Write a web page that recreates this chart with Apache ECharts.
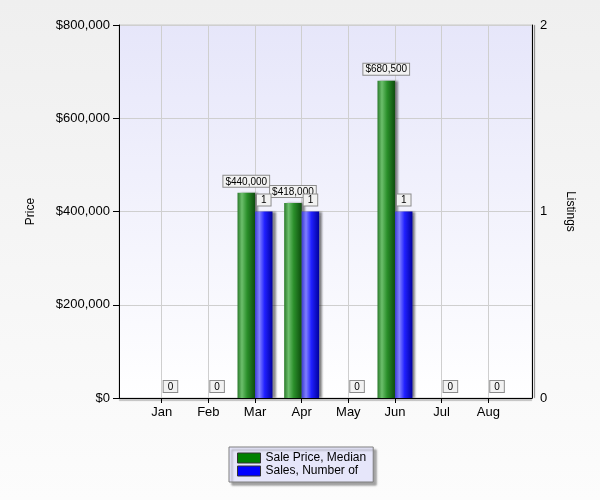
<!DOCTYPE html>
<html><head><meta charset="utf-8">
<script src="https://cdn.jsdelivr.net/npm/echarts@6/dist/echarts.min.js"></script>
<style>html,body{margin:0;padding:0;}#c{width:600px;height:500px;}</style>
</head><body><div id="c"></div>
<script>
const months = ['Jan','Feb','Mar','Apr','May','Jun','Jul','Aug'];
const priceValues = [null, null, 440000, 418000, null, 680500, null, null];
const salesValues = [0, 0, 1, 1, 0, 1, 0, 0];
const priceAxis = {min: 0, max: 800000, interval: 200000};
const listingsAxis = {min: 0, max: 2, interval: 1};
const seriesNames = ['Sale Price, Median', 'Sales, Number of'];

const FONT = '"Liberation Sans", Arial, sans-serif';
const chart = echarts.init(document.getElementById('c'), null, {renderer: 'canvas'});

const grad = (stops) => new echarts.graphic.LinearGradient(0, 0, 1, 0, stops.map((c, i) => ({offset: c[0], color: c[1]})));
const greenFill = grad([[0, '#2a7a2a'], [0.25, '#6cbf6c'], [0.55, '#2a8f2a'], [1, '#0d4d0d']]);
const blueFill = grad([[0, '#3c3cd0'], [0.25, '#8080ff'], [0.55, '#2020ff'], [1, '#0000a0']]);

const labelBox = {
  show: true, position: 'top', distance: 6,
  fontFamily: FONT, fontSize: 10, color: '#000',
  backgroundColor: '#f2f2f2', borderColor: '#8c8c8c', borderWidth: 1,
  padding: [1, 2, 0, 2]
};
const fmtMoney = v => '$' + Math.round(v).toLocaleString('en-US');

const gTop = 25, gBottom = 102;
const left0 = 119, right0 = 68;
const janX = 161.7, augX = 488.3;
const step = (augX - janX) / 7;
const left1 = janX - step / 2, width1 = step * 8;

chart.setOption({
  backgroundColor: new echarts.graphic.LinearGradient(0, 0, 0, 1, [{offset: 0, color: '#efefef'}, {offset: 1, color: '#fcfcfc'}]),
  animation: false,
  grid: [
    {left: left0, right: right0, top: gTop, bottom: gBottom, show: true,
     backgroundColor: new echarts.graphic.LinearGradient(0, 0, 0, 1, [{offset: 0, color: '#e6e6fa'}, {offset: 1, color: '#ffffff'}]),
     borderColor: '#c8c8c8', borderWidth: 1},
    {left: left1, width: width1, top: gTop, bottom: gBottom},
    {left: janX, width: augX - janX, top: gTop, bottom: gBottom}
  ],
  xAxis: [
    {gridIndex: 0, type: 'value', min: 0, max: 1, position: 'bottom',
     axisLine: {show: true, lineStyle: {color: '#000', width: 1, shadowColor: 'rgba(0,0,0,0.45)', shadowOffsetY: 1.5, shadowBlur: 1}},
     axisTick: {show: false}, axisLabel: {show: false}, splitLine: {show: false}},
    {gridIndex: 1, type: 'category', data: months, show: false},
    {gridIndex: 2, type: 'value', min: 0, max: 7, interval: 1, position: 'bottom',
     axisLine: {show: false},
     axisTick: {show: true, length: 5, lineStyle: {color: '#000'}},
     axisLabel: {show: true, margin: 8, fontFamily: FONT, fontSize: 13, color: '#000', formatter: v => months[v] || ''},
     splitLine: {show: true, lineStyle: {color: '#cfcfcf', width: 1}}}
  ],
  yAxis: [
    {gridIndex: 0, type: 'value', position: 'left', min: priceAxis.min, max: priceAxis.max, interval: priceAxis.interval,
     name: 'Price', nameLocation: 'middle', nameRotate: 90, nameGap: 82,
     nameTextStyle: {fontFamily: FONT, fontSize: 12, color: '#000'},
     axisLine: {show: true, lineStyle: {color: '#000'}},
     axisTick: {show: true, length: 6, lineStyle: {color: '#000'}},
     axisLabel: {margin: 9, fontFamily: FONT, fontSize: 13, color: '#000', formatter: fmtMoney},
     splitLine: {show: true, lineStyle: {color: '#cfcfcf'}}},
    {gridIndex: 0, type: 'value', position: 'right', min: listingsAxis.min, max: listingsAxis.max, interval: listingsAxis.interval,
     name: 'Listings', nameLocation: 'middle', nameRotate: -90, nameGap: 32,
     nameTextStyle: {fontFamily: FONT, fontSize: 12, color: '#000'},
     axisLine: {show: true, lineStyle: {color: '#000', width: 1, shadowColor: 'rgba(0,0,0,0.5)', shadowOffsetX: 2, shadowBlur: 1}},
     axisTick: {show: false},
     axisLabel: {margin: 8, fontFamily: FONT, fontSize: 13, color: '#000'},
     splitLine: {show: false}},
    {gridIndex: 1, type: 'value', min: priceAxis.min, max: priceAxis.max, show: false},
    {gridIndex: 1, type: 'value', min: listingsAxis.min, max: listingsAxis.max, show: false},
    {gridIndex: 2, type: 'value', min: 0, max: 1, show: false}
  ],
  legend: {
    left: 229, top: 447, orient: 'vertical',
    itemWidth: 23, itemHeight: 10, itemGap: 1,
    padding: [5, 7, 5, 8],
    backgroundColor: '#e6e6fa', borderColor: '#7f7f7f', borderWidth: 1,
    shadowColor: 'rgba(0,0,0,0.35)', shadowOffsetX: 3, shadowOffsetY: 3, shadowBlur: 2,
    textStyle: {fontFamily: FONT, fontSize: 12, color: '#000'},
    data: [
      {name: seriesNames[0], icon: 'rect', itemStyle: {color: '#008000', borderColor: '#333', borderWidth: 1}},
      {name: seriesNames[1], icon: 'rect', itemStyle: {color: '#0000ff', borderColor: '#333', borderWidth: 1}}
    ]
  },
  series: [
    {name: seriesNames[0], type: 'bar', xAxisIndex: 1, yAxisIndex: 2, data: priceValues,
     barWidth: 17.5, barGap: '0%',
     itemStyle: {color: greenFill, borderWidth: 0,
       shadowColor: 'rgba(0,0,0,0.45)', shadowOffsetX: 3, shadowBlur: 2},
     label: Object.assign({}, labelBox, {formatter: p => fmtMoney(p.value)})},
    {name: seriesNames[1], type: 'bar', xAxisIndex: 1, yAxisIndex: 3, data: salesValues,
     barWidth: 17.5, barGap: '0%',
     itemStyle: {color: blueFill, borderWidth: 0,
       shadowColor: 'rgba(0,0,0,0.45)', shadowOffsetX: 3, shadowBlur: 2},
     label: Object.assign({}, labelBox, {padding: [1, 4, 0, 4], formatter: p => String(p.value)})}
  ]
});
</script>
</body></html>
